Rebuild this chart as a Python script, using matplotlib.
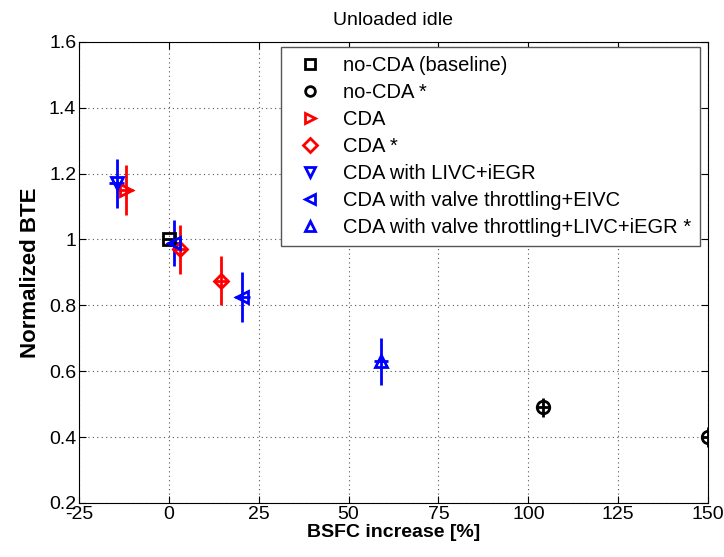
import matplotlib.pyplot as plt
import numpy as np

plt.rcParams['font.family'] = ['Liberation Sans', 'DejaVu Sans']
plt.rcParams['axes.unicode_minus'] = False

# series: x = BSFC increase [%], y = normalized BTE, yerr = half error bar
base_x = [0.0]
base_y = [1.0]
base_e = [0.0]

nocda_x = [104.0, 150.0]
nocda_y = [0.49, 0.40]
nocda_e = [0.03, 0.03]

cda_x = [-12.0]
cda_y = [1.15]
cda_e = [0.075]

cdas_x = [3.0, 14.5]
cdas_y = [0.97, 0.875]
cdas_e = [0.075, 0.075]

livc_x = [-14.5]
livc_y = [1.17]
livc_e = [0.075]

eivc_x = [1.5, 20.5]
eivc_y = [0.99, 0.825]
eivc_e = [0.07, 0.075]

vt_x = [59.0]
vt_y = [0.63]
vt_e = [0.072]

labels = ['no-CDA (baseline)', 'no-CDA *', 'CDA', 'CDA *', 'CDA with LIVC+iEGR',
          'CDA with valve throttling+EIVC', 'CDA with valve throttling+LIVC+iEGR *']

series = [
    (base_x, base_y, base_e, 's', 'k'),
    (nocda_x, nocda_y, nocda_e, 'o', 'k'),
    (cda_x, cda_y, cda_e, '>', 'r'),
    (cdas_x, cdas_y, cdas_e, 'D', 'r'),
    (livc_x, livc_y, livc_e, 'v', 'b'),
    (eivc_x, eivc_y, eivc_e, '<', 'b'),
    (vt_x, vt_y, vt_e, '^', 'b'),
]

fig = plt.figure(figsize=(7.24, 5.57), dpi=100)
ax = fig.add_axes([0.109, 0.097, 0.869, 0.828])

for (x, y, e, m, c), lab in zip(series, labels):
    ms = 7 if m == 'D' else 9
    if m == 's':
        ms = 8
    ax.errorbar(x, y, yerr=e, xerr=2.0, fmt=m, color=c, mfc='none', mec=c,
                mew=2, ms=ms, elinewidth=2, capsize=0, label=lab)

ax.set_xlim(-25, 150)
ax.set_ylim(0.2, 1.6)
ax.set_xticks(np.arange(-25, 151, 25))
ax.set_yticks(np.arange(0.2, 1.61, 0.2))
ax.set_yticklabels(['0.2', '0.4', '0.6', '0.8', '1', '1.2', '1.4', '1.6'])
ax.grid(True, linestyle=(0, (1, 3)), color='#555555', linewidth=0.8)
ax.tick_params(direction='in', top=True, right=True, labelsize=14, length=5, pad=2)
for s in ax.spines.values():
    s.set_linewidth(0.8)

ax.set_title('Unloaded idle', fontsize=14, pad=12)
ax.set_xlabel('BSFC increase [%]', fontsize=14, fontweight='bold', labelpad=1)
ax.set_ylabel('Normalized BTE', fontsize=16, fontweight='bold', labelpad=6)

leg_handles = [plt.Line2D([], [], marker=m, color=c, mfc='none', mew=2,
                          ms=7, linestyle='none') for (_, _, _, m, c) in series]
leg = ax.legend(leg_handles, labels, loc='upper right', fontsize=14.5,
                bbox_to_anchor=(0.987, 0.989), borderaxespad=0,
                fancybox=False, edgecolor='#555555', framealpha=1,
                handletextpad=0.6, labelspacing=0.4, borderpad=0.45)
leg.get_frame().set_linewidth(1)

fig.savefig('out.png', dpi=100)
